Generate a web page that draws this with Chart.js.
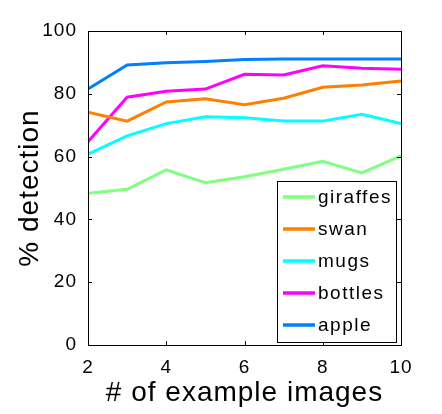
<!DOCTYPE html>
<html>
<head>
<meta charset="utf-8">
<script src="https://cdn.jsdelivr.net/npm/chart.js@4/dist/chart.umd.min.js"></script>
<style>
  html, body { margin: 0; padding: 0; background: #fff; }
  #wrap { width: 442px; height: 414px; }
</style>
</head>
<body>
<div id="wrap"><canvas id="myChart" width="442" height="414"></canvas></div>
<script>
const exampleCounts = [2, 3, 4, 5, 6, 7, 8, 9, 10];
const giraffes = [48.3, 49.6, 55.8, 51.7, 53.6, 56.0, 58.5, 54.8, 60.2];
const swan = [74.1, 71.3, 77.4, 78.4, 76.5, 78.6, 82.1, 82.8, 84.1];
const mugs = [60.8, 66.6, 70.5, 72.7, 72.4, 71.3, 71.3, 73.5, 70.5];
const bottles = [64.7, 78.9, 80.8, 81.5, 86.2, 86.0, 88.9, 88.1, 87.8];
const apple = [81.5, 89.2, 89.9, 90.3, 90.9, 91.1, 91.1, 91.1, 91.1];

const seriesNames = ["giraffes", "swan", "mugs", "bottles", "apple"];
const seriesValues = [giraffes, swan, mugs, bottles, apple];
const seriesColors = ["#80ff80", "#ff8000", "#00ffff", "#ff00ff", "#0080ff"];

const FONT = "'Liberation Sans', Arial, Helvetica, sans-serif";

// matlab-ish text is a bit spread out
const spacingPlugin = {
  id: "spacing",
  beforeDraw(chart) {
    chart.ctx.letterSpacing = "1px";
  },
};

// box frame + inward ticks like matlab
const boxPlugin = {
  id: "boxFrame",
  afterDatasetsDraw(chart) {
    const { ctx, chartArea: a, scales } = chart;
    ctx.save();
    ctx.strokeStyle = "#000";
    ctx.lineWidth = 1;
    ctx.strokeRect(a.left + 0.5, a.top + 0.5, a.right - a.left, a.bottom - a.top);
    ctx.beginPath();
    scales.x.ticks.forEach((t, i) => {
      const px = Math.round(scales.x.getPixelForTick(i)) + 0.5;
      ctx.moveTo(px, a.bottom);
      ctx.lineTo(px, a.bottom - 4);
      ctx.moveTo(px, a.top);
      ctx.lineTo(px, a.top + 4);
    });
    scales.y.ticks.forEach((t, i) => {
      const py = Math.round(scales.y.getPixelForTick(i)) + 0.5;
      ctx.moveTo(a.left, py);
      ctx.lineTo(a.left + 4, py);
      ctx.moveTo(a.right, py);
      ctx.lineTo(a.right - 4, py);
    });
    ctx.stroke();
    ctx.restore();
  },
};

const legendPlugin = {
  id: "insideLegend",
  afterDraw(chart) {
    const { ctx, chartArea: a } = chart;
    const left = a.left + 189, top = a.top + 150;
    const right = a.right - 5, bottom = a.bottom - 3;
    ctx.save();
    ctx.fillStyle = "#fff";
    ctx.fillRect(left, top, right - left, bottom - top);
    ctx.strokeStyle = "#000";
    ctx.lineWidth = 1;
    ctx.strokeRect(left + 0.5, top + 0.5, right - left, bottom - top);
    ctx.font = "19px " + FONT;
    ctx.letterSpacing = "1.5px";
    ctx.textBaseline = "middle";
    chart.data.datasets.forEach((ds, i) => {
      const y = top + 16 + i * 32;
      ctx.strokeStyle = ds.borderColor;
      ctx.lineWidth = 3.5;
      ctx.beginPath();
      ctx.moveTo(left + 6, y);
      ctx.lineTo(left + 38, y);
      ctx.stroke();
      ctx.fillStyle = "#000";
      ctx.fillText(ds.label, left + 41, y + 1);
    });
    ctx.restore();
  },
};

const ctx = document.getElementById("myChart").getContext("2d");
new Chart(ctx, {
  type: "line",
  data: {
    datasets: seriesNames.map((name, i) => ({
      label: name,
      data: exampleCounts.map((x, j) => ({ x: x, y: seriesValues[i][j] })),
      borderColor: seriesColors[i],
      backgroundColor: seriesColors[i],
      borderWidth: 3,
      pointRadius: 0,
      tension: 0,
    })),
  },
  options: {
    responsive: false,
    animation: false,
    layout: { padding: { top: 31, right: 41, left: 0, bottom: 0 } },
    plugins: { legend: { display: false }, tooltip: { enabled: false } },
    scales: {
      x: {
        type: "linear",
        min: 2,
        max: 10,
        ticks: { stepSize: 2, color: "#000", font: { family: FONT, size: 19 }, padding: 3 },
        grid: { display: false },
        border: { display: false },
        title: {
          display: true,
          text: "# of example images",
          color: "#000",
          font: { family: FONT, size: 28 },
          padding: { top: 0, bottom: 4 },
        },
        afterFit(scale) { scale.height = 69; },
      },
      y: {
        min: 0,
        max: 100,
        ticks: { stepSize: 20, color: "#000", font: { family: FONT, size: 19 }, padding: 3 },
        grid: { display: false },
        border: { display: false },
        title: {
          display: true,
          text: "% detection",
          color: "#000",
          font: { family: FONT, size: 28 },
          padding: { top: 13, bottom: 0 },
        },
        afterFit(scale) { scale.width = 88; },
      },
    },
  },
  plugins: [spacingPlugin, boxPlugin, legendPlugin],
});
</script>
</body>
</html>
